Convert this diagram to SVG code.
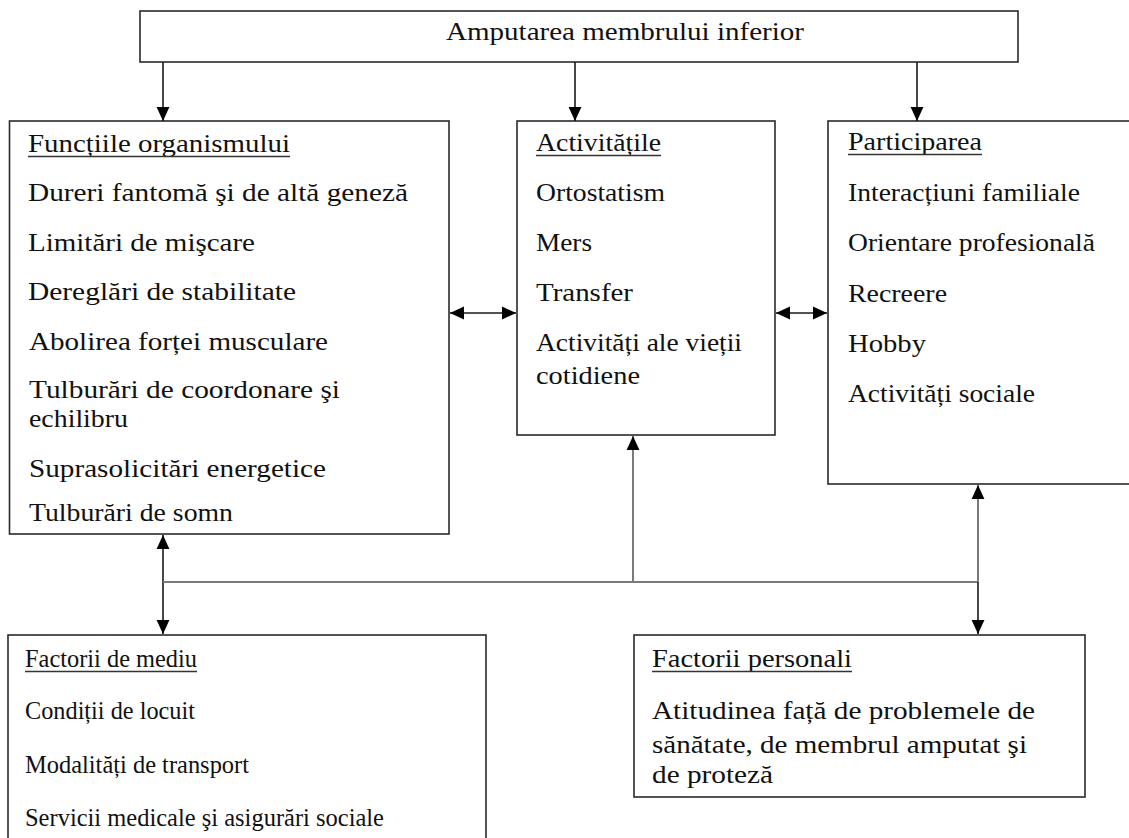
<svg xmlns="http://www.w3.org/2000/svg" width="1129" height="838" viewBox="0 0 1129 838">
<style>
.box{fill:#fff;stroke:#2a2a2a;stroke-width:1.6}
.t{font-family:"Liberation Serif","Times New Roman",serif;font-size:26px;fill:#111}
.ul{stroke:#333;stroke-width:1.5}
.k{stroke:#1a1a1a;stroke-width:1.6;fill:none}
.g{stroke:#7a7a7a;stroke-width:2;fill:none}
</style>
<defs>
<marker id="ah" markerUnits="userSpaceOnUse" markerWidth="14" markerHeight="14" refX="12" refY="6" orient="auto-start-reverse" viewBox="0 0 12 12">
<path d="M0,0.5 L12,6 L0,11.5 z" fill="#000"/>
</marker>
</defs>
<rect width="1129" height="838" fill="#fff"/>
<g id="top">
<rect class="box" x="140" y="11" width="878" height="51"/>
<text class="t" x="446" y="40" textLength="358" lengthAdjust="spacingAndGlyphs">Amputarea membrului inferior</text>
</g>
<g id="functii">
<rect class="box" x="9.5" y="121" width="439.5" height="413"/>
<text class="t" x="28" y="152" textLength="262" lengthAdjust="spacingAndGlyphs">Funcțiile organismului</text>
<line class="ul" x1="28" y1="156.5" x2="290" y2="156.5"/>
<text class="t" x="28" y="201" textLength="380" lengthAdjust="spacingAndGlyphs">Dureri fantomă şi de altă geneză</text>
<text class="t" x="28" y="251" textLength="227" lengthAdjust="spacingAndGlyphs">Limitări de mişcare</text>
<text class="t" x="28" y="300" textLength="268" lengthAdjust="spacingAndGlyphs">Dereglări de stabilitate</text>
<text class="t" x="29" y="350" textLength="299" lengthAdjust="spacingAndGlyphs">Abolirea forței musculare</text>
<text class="t" x="29" y="398" textLength="311" lengthAdjust="spacingAndGlyphs">Tulburări de coordonare şi</text>
<text class="t" x="29" y="427" textLength="99" lengthAdjust="spacingAndGlyphs">echilibru</text>
<text class="t" x="29" y="477" textLength="297" lengthAdjust="spacingAndGlyphs">Suprasolicitări energetice</text>
<text class="t" x="29" y="521" textLength="204" lengthAdjust="spacingAndGlyphs">Tulburări de somn</text>
</g>
<g id="activitati">
<rect class="box" x="517" y="121" width="258" height="314"/>
<text class="t" x="536" y="151" textLength="125" lengthAdjust="spacingAndGlyphs">Activitățile</text>
<line class="ul" x1="536" y1="155.5" x2="661" y2="155.5"/>
<text class="t" x="536" y="201" textLength="129" lengthAdjust="spacingAndGlyphs">Ortostatism</text>
<text class="t" x="536" y="251" textLength="56" lengthAdjust="spacingAndGlyphs">Mers</text>
<text class="t" x="536" y="301" textLength="97" lengthAdjust="spacingAndGlyphs">Transfer</text>
<text class="t" x="536" y="351" textLength="206" lengthAdjust="spacingAndGlyphs">Activități ale vieții</text>
<text class="t" x="536" y="384" textLength="104" lengthAdjust="spacingAndGlyphs">cotidiene</text>
</g>
<g id="participarea">
<rect class="box" x="828" y="121" width="310" height="363"/>
<text class="t" x="848" y="150" textLength="134" lengthAdjust="spacingAndGlyphs">Participarea</text>
<line class="ul" x1="848" y1="154.5" x2="982" y2="154.5"/>
<text class="t" x="848" y="201" textLength="232" lengthAdjust="spacingAndGlyphs">Interacțiuni familiale</text>
<text class="t" x="848" y="251" textLength="247" lengthAdjust="spacingAndGlyphs">Orientare profesională</text>
<text class="t" x="848" y="302" textLength="99" lengthAdjust="spacingAndGlyphs">Recreere</text>
<text class="t" x="848" y="352" textLength="78" lengthAdjust="spacingAndGlyphs">Hobby</text>
<text class="t" x="848" y="402" textLength="187" lengthAdjust="spacingAndGlyphs">Activități sociale</text>
</g>
<g id="mediu">
<rect class="box" x="8" y="635" width="478" height="215"/>
<text class="t" x="25" y="667" textLength="172" lengthAdjust="spacingAndGlyphs">Factorii de mediu</text>
<line class="ul" x1="25" y1="671.5" x2="197" y2="671.5"/>
<text class="t" x="25" y="719" textLength="170" lengthAdjust="spacingAndGlyphs">Condiții de locuit</text>
<text class="t" x="25" y="773" textLength="224" lengthAdjust="spacingAndGlyphs">Modalități de transport</text>
<text class="t" x="25" y="826" textLength="359" lengthAdjust="spacingAndGlyphs">Servicii medicale şi asigurări sociale</text>
</g>
<g id="personali">
<rect class="box" x="634" y="635" width="451" height="162"/>
<text class="t" x="652" y="667" textLength="200" lengthAdjust="spacingAndGlyphs">Factorii personali</text>
<line class="ul" x1="652" y1="671.5" x2="852" y2="671.5"/>
<text class="t" x="652" y="719" textLength="383" lengthAdjust="spacingAndGlyphs">Atitudinea față de problemele de</text>
<text class="t" x="652" y="753" textLength="375" lengthAdjust="spacingAndGlyphs">sănătate, de membrul amputat şi</text>
<text class="t" x="652" y="783" textLength="121" lengthAdjust="spacingAndGlyphs">de proteză</text>
</g>
<g id="connectors">
<line class="k" x1="163" y1="62" x2="163" y2="121" marker-end="url(#ah)"/>
<line class="k" x1="575" y1="62" x2="575" y2="121" marker-end="url(#ah)"/>
<line class="k" x1="917" y1="62" x2="917" y2="121" marker-end="url(#ah)"/>
<line class="k" x1="450" y1="313" x2="516" y2="313" marker-start="url(#ah)" marker-end="url(#ah)"/>
<line class="k" x1="776" y1="313" x2="827" y2="313" marker-start="url(#ah)" marker-end="url(#ah)"/>
<line class="k" x1="163" y1="535" x2="163" y2="634" marker-start="url(#ah)" marker-end="url(#ah)"/>
<line class="g" x1="163" y1="582" x2="978" y2="582"/>
<line class="g" x1="633" y1="582" x2="633" y2="436" marker-end="url(#ah)"/>
<line class="g" x1="978" y1="582" x2="978" y2="485" marker-end="url(#ah)"/>
<line class="k" x1="978" y1="582" x2="978" y2="634" marker-end="url(#ah)"/>
</g>
</svg>
